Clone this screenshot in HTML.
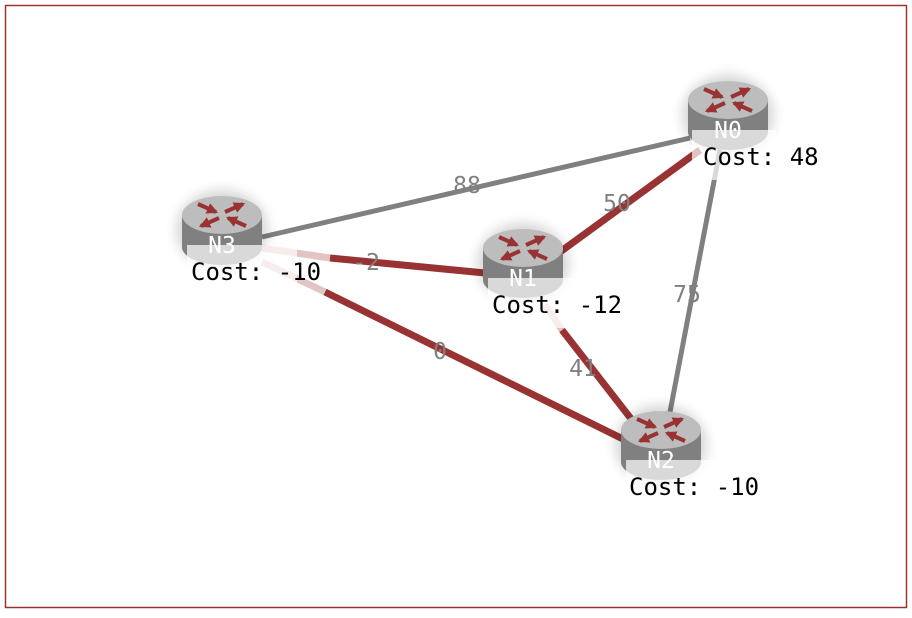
<!DOCTYPE html>
<html><head><style>
body{margin:0;background:#fff;}
svg text{font-family:"DejaVu Sans Mono","Liberation Mono",monospace;}
</style></head><body>
<svg width="912" height="613" viewBox="0 0 912 613" xmlns="http://www.w3.org/2000/svg">
<defs>
<filter id="sh" x="-50%" y="-50%" width="200%" height="200%"><feGaussianBlur stdDeviation="6"/></filter>
<marker id="ah" viewBox="0 0 10 10" refX="8" refY="5" markerWidth="2.8" markerHeight="2.8" orient="auto"><path d="M0,0 L10,5 L0,10Z" fill="#933"/></marker>
<g id="ico">
<ellipse cx="0" cy="35" rx="46" ry="40" fill="#000" opacity="0.16" filter="url(#sh)"/>
<path d="M-40,20 L-40,52 A40,18 0 0 0 40,52 L40,20Z" fill="#808080"/>
<ellipse cx="0" cy="20" rx="40" ry="19" fill="#bdbdbd"/>
<g stroke="#933" stroke-width="4" marker-end="url(#ah)">
<line x1="-24" y1="9" x2="-6" y2="17"/>
<line x1="24" y1="31" x2="6" y2="23"/>
<line x1="3" y1="17" x2="21" y2="9"/>
<line x1="-3" y1="23" x2="-21" y2="31"/>
</g>
</g>
</defs>
<rect x="5.5" y="5.5" width="901" height="602" fill="#fff" stroke="#933" stroke-width="1.5"/>
<line x1="262" y1="237" x2="690" y2="138" stroke="#808080" stroke-width="5"/>
<line x1="720" y1="150" x2="670" y2="412" stroke="#808080" stroke-width="5"/>
<line x1="560" y1="252" x2="700" y2="150" stroke="#933" stroke-width="7"/>
<line x1="262" y1="248" x2="330" y2="258" stroke="#e3c4c4" stroke-width="7"/>
<line x1="330" y1="258" x2="485" y2="273" stroke="#933" stroke-width="7"/>
<line x1="262" y1="262" x2="325" y2="292" stroke="#e3c4c4" stroke-width="7"/>
<line x1="325" y1="292" x2="625" y2="440" stroke="#933" stroke-width="7"/>
<line x1="545" y1="305" x2="562" y2="330" stroke="#e3c4c4" stroke-width="7"/>
<line x1="562" y1="330" x2="632" y2="420" stroke="#933" stroke-width="7"/>
<g fill="#808080" font-size="23" text-anchor="middle">
<text x="467" y="193">88</text>
<text x="617" y="211">50</text>
<text x="366" y="270">-2</text>
<text x="583" y="376">41</text>
<text x="440" y="359">0</text>
<text x="687" y="302">75</text>
</g>
<g transform="translate(728,80)">
<use href="#ico"/>
<rect x="-36" y="50" width="84" height="50" fill="#fff" opacity="0.7"/>
<text x="0" y="58" fill="#fff" font-size="23" text-anchor="middle">N0</text>
<text x="-25" y="85" fill="#000" font-size="24">Cost: 48</text>
</g>
<g transform="translate(222,195)">
<use href="#ico"/>
<rect x="-35" y="50" width="110" height="50" fill="#fff" opacity="0.7"/>
<text x="0" y="58" fill="#fff" font-size="23" text-anchor="middle">N3</text>
<text x="-31" y="85" fill="#000" font-size="24">Cost: -10</text>
</g>
<g transform="translate(523,228)">
<use href="#ico"/>
<rect x="-35" y="50" width="110" height="50" fill="#fff" opacity="0.7"/>
<text x="0" y="58" fill="#fff" font-size="23" text-anchor="middle">N1</text>
<text x="-31" y="85" fill="#000" font-size="24">Cost: -12</text>
</g>
<g transform="translate(661,410)">
<use href="#ico"/>
<rect x="-35" y="50" width="110" height="50" fill="#fff" opacity="0.7"/>
<text x="0" y="58" fill="#fff" font-size="23" text-anchor="middle">N2</text>
<text x="-32" y="85" fill="#000" font-size="24">Cost: -10</text>
</g>
</svg>
</body></html>
